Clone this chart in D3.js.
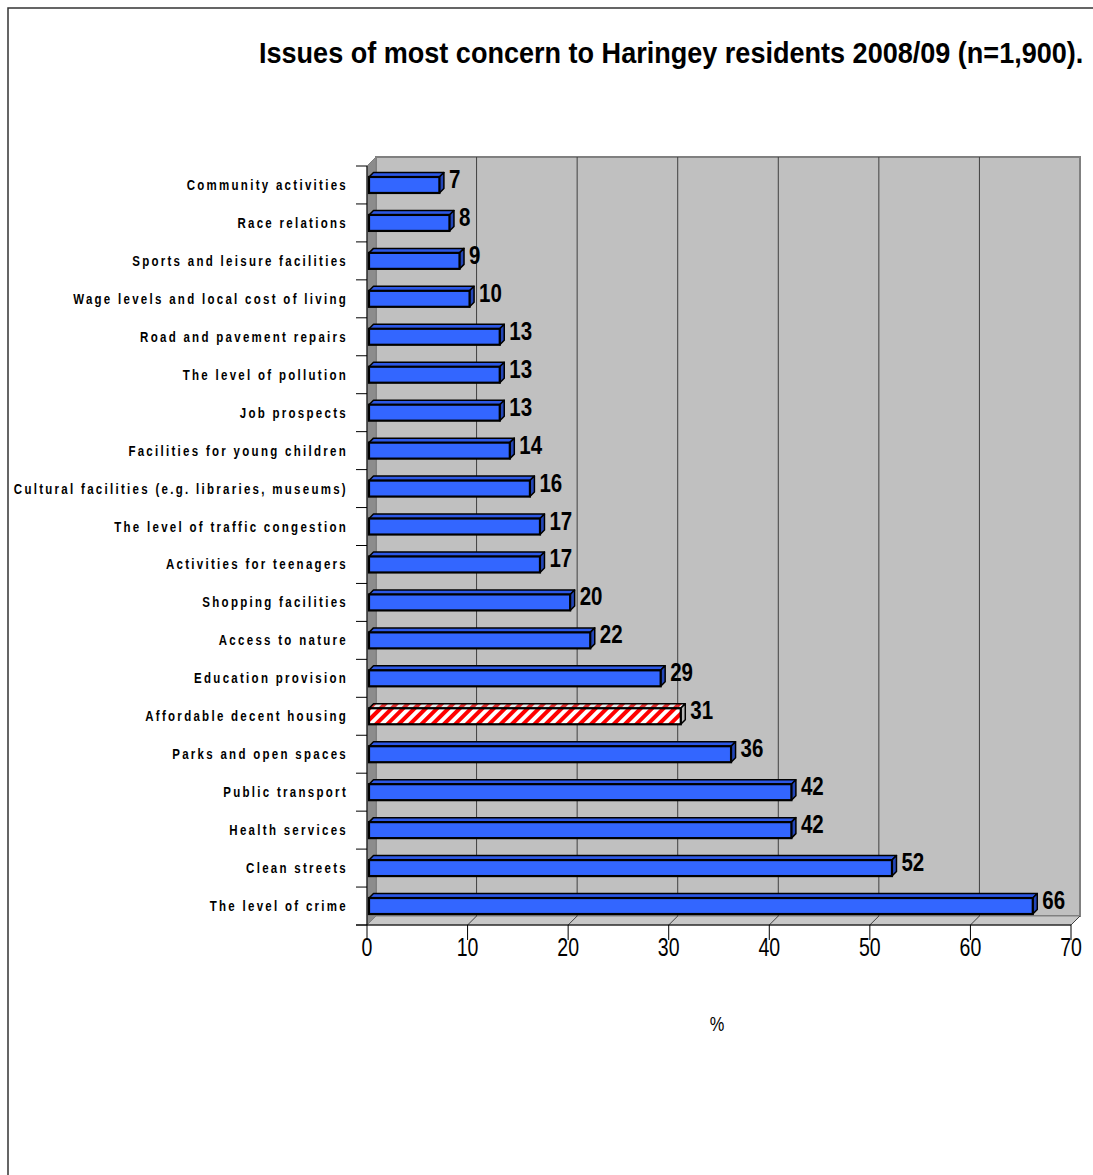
<!DOCTYPE html>
<html>
<head>
<meta charset="utf-8">
<script src="https://cdn.jsdelivr.net/npm/d3@7"></script>
<style>
  html, body { margin: 0; padding: 0; background: #ffffff; }
  svg { display: block; }
</style>
</head>
<body>
<svg id="chart" width="1093" height="1175"></svg>
<script>
// ---------------- data ----------------
const categories = [
  "Community activities",
  "Race relations",
  "Sports and leisure facilities",
  "Wage levels and local cost of living",
  "Road and pavement repairs",
  "The level of pollution",
  "Job prospects",
  "Facilities for young children",
  "Cultural facilities (e.g. libraries, museums)",
  "The level of traffic congestion",
  "Activities for teenagers",
  "Shopping facilities",
  "Access to nature",
  "Education provision",
  "Affordable decent housing",
  "Parks and open spaces",
  "Public transport",
  "Health services",
  "Clean streets",
  "The level of crime"
];
const values = [7, 8, 9, 10, 13, 13, 13, 14, 16, 17, 17, 20, 22, 29, 31, 36, 42, 42, 52, 66];
const highlighted = ["Affordable decent housing"];
const tickValues = [0, 10, 20, 30, 40, 50, 60, 70];
const tickLabels = ["0", "10", "20", "30", "40", "50", "60", "70"];
const titleText = "Issues of most concern to Haringey residents 2008/09 (n=1,900).";
const axisTitle = "%";

// ---------------- layout ----------------
const svg = d3.select("#chart");
const FONT = "'Liberation Sans', Arial, sans-serif";
const SX = 0.82; // horizontal condensing to mimic a narrow face
const DEPTH = 9;
const BD = 4.5;
const front = { left: 367, right: 1071, top: 166, bottom: 925 };

const x = d3.scaleLinear().domain([0, 70]).range([front.left, front.right]);
const y = d3.scaleBand().domain(categories).range([front.top, front.bottom]).paddingInner(0).paddingOuter(0);

function ntext(parent, tx, ty, str, o) {
  const g = parent.append("g").attr("transform", `translate(${tx},${ty}) scale(${o.sx || SX},1)`);
  const t = g.append("text").attr("x", 0).attr("y", 0)
    .attr("font-family", FONT)
    .attr("font-size", o.size)
    .attr("font-weight", o.bold ? "bold" : "normal")
    .attr("text-anchor", o.anchor || "start")
    .attr("fill", "#000")
    .text(str);
  if (o.ls) t.attr("letter-spacing", o.ls);
  return { g, t };
}

// outer border
svg.append("rect")
  .attr("x", 8).attr("y", 8).attr("width", 1200).attr("height", 1200)
  .attr("fill", "#ffffff").attr("stroke", "#333333").attr("stroke-width", 1.5);

// title: condensed to fit between x=259 and x=1084
{
  const { g, t } = ntext(svg, 259, 63, titleText, { size: 30, bold: true, sx: 1 });
  const w = t.node().getComputedTextLength();
  const s = 825 / w;
  g.attr("transform", `translate(259,63) scale(${s},1)`);
}

// defs: stripe pattern
const defs = svg.append("defs");
const pat = defs.append("pattern").attr("id", "stripes")
  .attr("patternUnits", "userSpaceOnUse").attr("width", 8).attr("height", 8)
  .attr("patternTransform", "rotate(45)");
pat.append("rect").attr("width", 8).attr("height", 8).attr("fill", "#ffffff");
pat.append("rect").attr("width", 4).attr("height", 8).attr("fill", "#ff0000");
const pat2 = defs.append("pattern").attr("id", "stripesTop")
  .attr("patternUnits", "userSpaceOnUse").attr("width", 8).attr("height", 8)
  .attr("patternTransform", "rotate(45)");
pat2.append("rect").attr("width", 8).attr("height", 8).attr("fill", "#e8e8e8");
pat2.append("rect").attr("width", 4).attr("height", 8).attr("fill", "#e03030");

// back wall
const backL = front.left + DEPTH, backR = front.right + DEPTH;
const backT = front.top - DEPTH, backB = front.bottom - DEPTH;
svg.append("rect")
  .attr("x", backL).attr("y", backT).attr("width", backR - backL).attr("height", backB - backT)
  .attr("fill", "#c0c0c0").attr("stroke", "#808080").attr("stroke-width", 2);

// left wall
svg.append("path")
  .attr("d", `M${front.left},${front.top} L${backL},${backT} L${backL},${backB} L${front.left},${front.bottom} Z`)
  .attr("fill", "#8c8c8c").attr("stroke", "#808080").attr("stroke-width", 1);

// floor
svg.append("path")
  .attr("d", `M${front.left},${front.bottom} L${backL},${backB} L${backR},${backB} L${front.right},${front.bottom} Z`)
  .attr("fill", "#c8c8c8").attr("stroke", "#808080").attr("stroke-width", 1);

// gridlines on back wall + floor diagonals
const grid = svg.append("g");
tickValues.filter(v => v > 0 && v < 70).forEach(v => {
  grid.append("line")
    .attr("x1", x(v) + DEPTH).attr("x2", x(v) + DEPTH)
    .attr("y1", backT).attr("y2", backB)
    .attr("stroke", "#404040").attr("stroke-width", 1);
});
tickValues.filter(v => v > 0).forEach(v => {
  grid.append("line")
    .attr("x1", x(v) + DEPTH).attr("y1", backB)
    .attr("x2", x(v)).attr("y2", front.bottom)
    .attr("stroke", "#404040").attr("stroke-width", 1);
});

// bars
const barH = 16;
const bars = svg.append("g");
categories.forEach((c, i) => {
  const v = values[i];
  const hl = highlighted.includes(c);
  const x0 = x(0) + 2, x1 = x(v) + 2;
  const yc = y(c) + y.bandwidth() / 2 - 2;
  const yt = yc - barH / 2 + 2, yb = yc + barH / 2 + 2;
  bars.append("path")
    .attr("d", `M${x0},${yt} L${x0 + BD},${yt - BD} L${x1 + BD},${yt - BD} L${x1},${yt} Z`)
    .attr("fill", hl ? "url(#stripesTop)" : "#2d58e6")
    .attr("stroke", "#000").attr("stroke-width", 1.5).attr("stroke-linejoin", "round");
  bars.append("path")
    .attr("d", `M${x1},${yt} L${x1 + BD},${yt - BD} L${x1 + BD},${yb - BD} L${x1},${yb} Z`)
    .attr("fill", hl ? "#b8b8b8" : "#2346b8")
    .attr("stroke", "#000").attr("stroke-width", 1.5).attr("stroke-linejoin", "round");
  bars.append("rect")
    .attr("x", x0).attr("y", yt).attr("width", x1 - x0).attr("height", yb - yt)
    .attr("fill", hl ? "url(#stripes)" : "#3366ff")
    .attr("stroke", "#000").attr("stroke-width", 2.2);
  ntext(bars, x1 + BD + 5, y(c) + y.bandwidth() / 2 + 3, String(v), { size: 25, bold: true });
});

// axes lines
svg.append("line")
  .attr("x1", front.left).attr("x2", front.left).attr("y1", front.top).attr("y2", front.bottom)
  .attr("stroke", "#000").attr("stroke-width", 1);
svg.append("line")
  .attr("x1", 356).attr("x2", front.right).attr("y1", front.bottom).attr("y2", front.bottom)
  .attr("stroke", "#000").attr("stroke-width", 1);

// category ticks
const bounds = categories.map(c => y(c)).concat([front.bottom]);
bounds.forEach(b => {
  svg.append("line").attr("x1", 356).attr("x2", front.left).attr("y1", b).attr("y2", b)
    .attr("stroke", "#000").attr("stroke-width", 1);
});

// category labels
const catG = svg.append("g");
categories.forEach(c => {
  ntext(catG, 348, y(c) + y.bandwidth() / 2 + 5, c, { size: 14, bold: true, anchor: "end", ls: 2.8 });
});

// value axis ticks & labels
const tickG = svg.append("g");
tickValues.forEach((v, i) => {
  tickG.append("line").attr("x1", x(v)).attr("x2", x(v)).attr("y1", front.bottom).attr("y2", 940)
    .attr("stroke", "#000").attr("stroke-width", 1);
  ntext(tickG, x(v), 956, tickLabels[i], { size: 25, anchor: "middle", sx: 0.78 });
});

// axis title
ntext(svg, 717, 1031, axisTitle, { size: 20, anchor: "middle" });
</script>
</body>
</html>
